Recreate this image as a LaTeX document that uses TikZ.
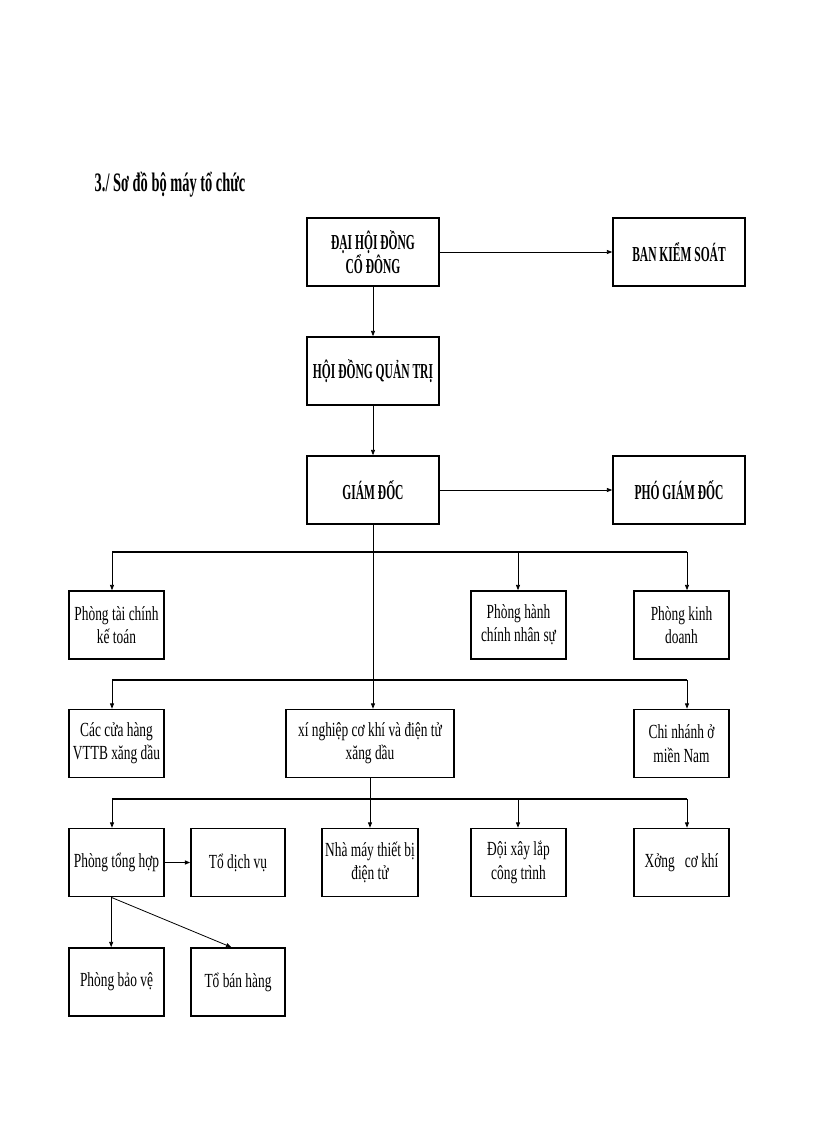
\documentclass[tikz,border=0pt]{standalone}
\usepackage{fontspec}
\setmainfont{Liberation Serif}[UprightFeatures={FakeStretch=0.67},BoldFeatures={FakeStretch=0.54}]
\usetikzlibrary{arrows.meta}

\begin{document}
\begin{tikzpicture}[x=0.75pt,y=-0.75pt, % one unit = one pixel, y down
  box/.style={draw,line width=1.2pt,align=center,inner sep=1pt,
    minimum width=71.25pt,minimum height=51pt,font=\fontsize{15}{17.5}\selectfont},
  bigbox/.style={box,minimum width=99pt,font=\fontsize{16}{18}\selectfont\bfseries},
  conn/.style={line width=0.6pt},
  arr/.style={conn,-{Triangle[length=4pt,width=3pt]}},
  bus/.style={line width=1pt}]
\useasboundingbox (0,0) rectangle (816,1123);

\node[anchor=base west,font=\fontsize{20}{24}\selectfont\bfseries] (title) at (90,192) {3./ Sơ đồ bộ máy tổ chức};

% top levels
\node[bigbox] (dhcd) at (373,252) {ĐẠI HỘI ĐỒNG\\CỔ ĐÔNG};
\node[bigbox] (bks) at (679,252) {BAN KIỂM SOÁT};
\node[bigbox] (hdqt) at (373,371) {HỘI ĐỒNG QUẢN TRỊ};
\node[bigbox] (gd) at (373,490) {GIÁM ĐỐC};
\node[bigbox] (pgd) at (679,490) {PHÓ GIÁM ĐỐC};

% departments
\node[box] (ptckt) at (116.5,625) {Phòng tài chính\\kế toán};
\node[box] (phcns) at (518.5,625) {Phòng hành\\chính nhân sự};
\node[box] (pkd) at (681.5,625) {Phòng kinh\\doanh};

\node[box] (cuahang) at (116.5,743.5) {Các cửa hàng\\VTTB xăng dầu};
\node[box,minimum width=126pt] (xn) at (370,743.5) {xí nghiệp cơ khí và điện tử\\xăng dầu};
\node[box] (chinhanh) at (681.5,743.5) {Chi nhánh ở\\miền Nam};

\node[box] (pth) at (116.5,862.5) {Phòng tổng hợp};
\node[box,minimum width=70.5pt] (tdv) at (238,862.5) {Tổ dịch vụ};
\node[box,minimum width=72pt] (nhamay) at (370,862.5) {Nhà máy thiết bị\\điện tử};
\node[box] (doixl) at (518.5,862.5) {Đội xây lắp\\công trình};
\node[box] (xuong) at (681.5,862.5) {Xởng~~~cơ khí};

\node[box] (pbv) at (116.5,982) {Phòng bảo vệ};
\node[box,minimum width=70.5pt] (tbh) at (238,982) {Tổ bán hàng};

% connectors
\draw[arr] (dhcd) -- (bks);
\draw[arr] (dhcd) -- (hdqt);
\draw[arr] (hdqt) -- (gd);
\draw[arr] (gd) -- (pgd);
\draw[arr] (gd) -- (gd.south |- xn.north);

\draw[bus] (112,552) -- (687,552);
\foreach \n/\x in {ptckt/112,phcns/518,pkd/687}
  {\coordinate (t) at (\x,552); \draw[arr] (t) -- (t |- \n.north);}

\draw[bus] (112,680) -- (687,680);
\foreach \n/\x in {cuahang/112,chinhanh/687}
  {\coordinate (t) at (\x,680); \draw[arr] (t) -- (t |- \n.north);}

\draw[arr] (xn) -- (nhamay);
\draw[bus] (112,799) -- (687,799);
\foreach \n/\x in {pth/112,doixl/518,xuong/687}
  {\coordinate (t) at (\x,799); \draw[arr] (t) -- (t |- \n.north);}

\draw[arr,line width=1.2pt] (pth) -- (tdv);
\coordinate (pt) at ([xshift=-4pt]pth.south);
\draw[arr] (pt) -- (pt |- pbv.north);
\draw[arr] (pt) -- ([xshift=-5pt]tbh.north);

\end{tikzpicture}
\end{document}
